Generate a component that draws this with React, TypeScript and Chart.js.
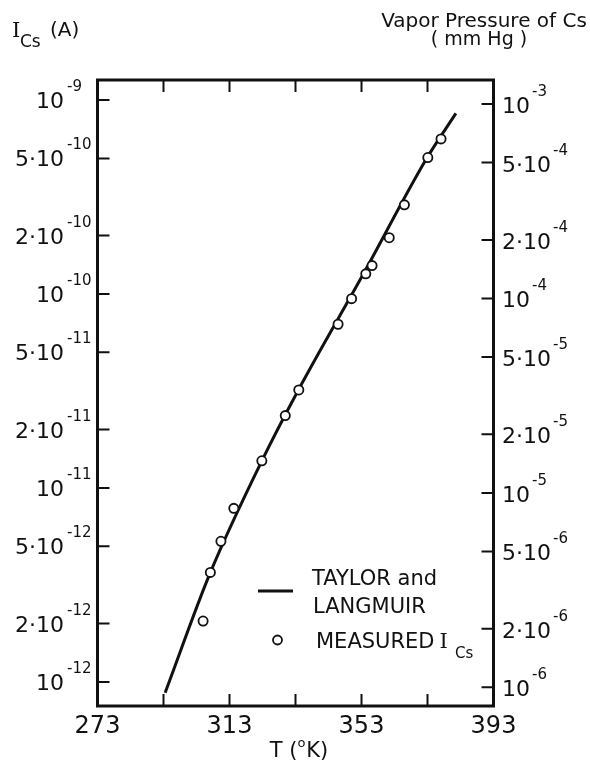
import React, { useEffect, useRef } from "react";
import { Chart, registerables } from "chart.js";

Chart.register(...registerables);

// ---- data ----
const X_MIN = 273;
const X_MAX = 393;
const X_TICKS = [293, 313, 333, 353, 373];
const X_LABELS = [273, 313, 353, 393];

const Y_MIN = Math.pow(10, -12.124);
const Y_MAX = Math.pow(10, -8.897);
const Y2_MIN = Math.pow(10, -6.096);
const Y2_MAX = Math.pow(10, -2.8765);

const LEFT_TICKS = [1e-9, 5e-10, 2e-10, 1e-10, 5e-11, 2e-11, 1e-11, 5e-12, 2e-12, 1e-12];
const LEFT_LABELS = ["10^-9", "5·10^-10", "2·10^-10", "10^-10", "5·10^-11", "2·10^-11", "10^-11", "5·10^-12", "2·10^-12", "10^-12"];
const RIGHT_TICKS = [1e-3, 5e-4, 2e-4, 1e-4, 5e-5, 2e-5, 1e-5, 5e-6, 2e-6, 1e-6];
const RIGHT_LABELS = ["10^-3", "5·10^-4", "2·10^-4", "10^-4", "5·10^-5", "2·10^-5", "10^-5", "5·10^-6", "2·10^-6", "10^-6"];

// Taylor and Langmuir curve
const LINE_T = [293.5, 307.2, 322.8, 334.0, 353.8, 372.9, 381.6];
const LINE_I = [8.8e-13, 3.67e-12, 1.38e-11, 3.23e-11, 1.29e-10, 5.05e-10, 8.53e-10];

// Measured I_Cs
const PT_T = [305.0, 307.2, 310.4, 314.3, 322.8, 329.9, 334.0, 345.9, 350.0, 354.3, 356.2, 361.4, 366.0, 373.1, 377.1];
const PT_I = [2.06e-12, 3.67e-12, 5.31e-12, 7.85e-12, 1.38e-11, 2.36e-11, 3.2e-11, 6.98e-11, 9.46e-11, 1.27e-10, 1.4e-10, 1.95e-10, 2.88e-10, 5.05e-10, 6.3e-10];

const SANS = '"DejaVu Sans", sans-serif';
const SERIF = '"DejaVu Serif", serif';
const INK = "#111";

function drawSup(ctx: CanvasRenderingContext2D, label: string, x: number, y: number, side: "left" | "right") {
  const [base, exp] = label.split("^");
  const baseFont = `22px ${SANS}`;
  const supFont = `15px ${SANS}`;
  ctx.textBaseline = "alphabetic";
  ctx.font = baseFont;
  const bw = ctx.measureText(base).width;
  if (side === "left") {
    ctx.textAlign = "right";
    ctx.fillText(base, 64, y + 8);
    ctx.font = supFont;
    ctx.textAlign = "left";
    ctx.fillText(exp, 67, y - 9);
  } else {
    ctx.textAlign = "left";
    ctx.fillText(base, x, y + 9);
    ctx.font = supFont;
    ctx.fillText(exp, x + bw + 2, y - 8);
  }
}

const decorPlugin = {
  id: "decor",
  afterDraw(chart: any) {
    const ctx: CanvasRenderingContext2D = chart.ctx;
    const { left, right, top, bottom } = chart.chartArea;
    const xs = chart.scales.x;
    const ys = chart.scales.y;
    const y2 = chart.scales.y2;
    ctx.save();
    ctx.strokeStyle = INK;
    ctx.fillStyle = INK;

    // frame
    ctx.lineWidth = 3;
    ctx.strokeRect(left, top, right - left, bottom - top);

    // ticks
    ctx.lineWidth = 2;
    ctx.beginPath();
    X_TICKS.forEach((t) => {
      const px = xs.getPixelForValue(t);
      ctx.moveTo(px, top);
      ctx.lineTo(px, top + 12);
      ctx.moveTo(px, bottom);
      ctx.lineTo(px, bottom - 12);
    });
    LEFT_TICKS.forEach((v) => {
      const py = ys.getPixelForValue(v);
      ctx.moveTo(left, py);
      ctx.lineTo(left + 12, py);
    });
    RIGHT_TICKS.forEach((v) => {
      const py = y2.getPixelForValue(v);
      ctx.moveTo(right, py);
      ctx.lineTo(right - 12, py);
    });
    ctx.stroke();

    // x labels
    ctx.font = `24px ${SANS}`;
    ctx.textAlign = "center";
    ctx.textBaseline = "alphabetic";
    X_LABELS.forEach((t) => {
      ctx.fillText(String(t), xs.getPixelForValue(t), 733);
    });

    // y labels
    LEFT_TICKS.forEach((v, i) => drawSup(ctx, LEFT_LABELS[i], left, ys.getPixelForValue(v), "left"));
    RIGHT_TICKS.forEach((v, i) => drawSup(ctx, RIGHT_LABELS[i], 502, y2.getPixelForValue(v), "right"));

    // x axis title: T (°K)
    {
      const parts1 = "T (";
      const sup = "o";
      const parts2 = "K)";
      ctx.font = `21px ${SANS}`;
      const w1 = ctx.measureText(parts1).width;
      const w2 = ctx.measureText(parts2).width;
      ctx.font = `13px ${SANS}`;
      const ws = ctx.measureText(sup).width;
      const total = w1 + ws + 1 + w2;
      const x0 = 299 - total / 2;
      ctx.textAlign = "left";
      ctx.font = `21px ${SANS}`;
      ctx.fillText(parts1, x0, 757);
      ctx.font = `13px ${SANS}`;
      ctx.fillText(sup, x0 + w1, 747);
      ctx.font = `21px ${SANS}`;
      ctx.fillText(parts2, x0 + w1 + ws + 1, 757);
    }

    // left axis title: I_Cs (A)
    ctx.textAlign = "left";
    ctx.font = `21px ${SERIF}`;
    ctx.fillText("I", 12, 37);
    ctx.font = `17px ${SANS}`;
    ctx.fillText("Cs", 20, 47);
    ctx.font = `20px ${SANS}`;
    ctx.fillText("(A)", 50, 36);

    // right axis title
    ctx.textAlign = "center";
    ctx.font = `20px ${SANS}`;
    ctx.fillText("Vapor Pressure of Cs", 484, 27);
    ctx.font = `19px ${SANS}`;
    ctx.fillText("( mm Hg )", 479, 45);

    // legend
    ctx.lineWidth = 3;
    ctx.beginPath();
    ctx.moveTo(258, 591);
    ctx.lineTo(293, 591);
    ctx.stroke();
    ctx.textAlign = "left";
    ctx.textBaseline = "alphabetic";
    ctx.font = `21px ${SANS}`;
    ctx.fillText("TAYLOR and", 312, 585);
    ctx.fillText("LANGMUIR", 313, 613);
    ctx.lineWidth = 1.8;
    ctx.beginPath();
    ctx.arc(277.5, 640, 4.5, 0, Math.PI * 2);
    ctx.stroke();
    ctx.fillText("MEASURED", 316, 648);
    const mw = ctx.measureText("MEASURED").width;
    ctx.font = `21px ${SERIF}`;
    ctx.fillText("I", 316 + mw + 5, 648);
    ctx.font = `15px ${SANS}`;
    ctx.fillText("Cs", 455, 658);

    ctx.restore();
  },
};

export default function App() {
  const canvasRef = useRef<HTMLCanvasElement | null>(null);

  useEffect(() => {
    document.body.style.margin = "0";
    const canvas = canvasRef.current;
    if (!canvas) return;
    const chart = new Chart(canvas, {
      type: "scatter",
      data: {
        datasets: [
          {
            label: "MEASURED I_Cs",
            data: PT_T.map((t, i) => ({ x: t, y: PT_I[i] })),
            yAxisID: "y",
            pointRadius: 4.6,
            pointBorderWidth: 1.8,
            pointBackgroundColor: "#fff",
            pointBorderColor: INK,
            showLine: false,
            order: 1,
          },
          {
            label: "TAYLOR and LANGMUIR",
            data: LINE_T.map((t, i) => ({ x: t, y: LINE_I[i] })),
            yAxisID: "y",
            showLine: true,
            pointRadius: 0,
            borderColor: INK,
            borderWidth: 3,
            cubicInterpolationMode: "monotone",
            order: 2,
          } as any,
        ],
      },
      options: {
        responsive: false,
        animation: false,
        devicePixelRatio: 1,
        layout: { padding: { top: 80, left: 0, right: 0, bottom: 0 } },
        plugins: {
          legend: { display: false },
          tooltip: { enabled: false },
          title: { display: false },
        },
        scales: {
          x: {
            type: "linear",
            min: X_MIN,
            max: X_MAX,
            ticks: { display: false },
            grid: { display: false, drawTicks: false },
            border: { display: false },
            afterFit: (s: any) => {
              s.height = 55;
            },
          },
          y: {
            type: "logarithmic",
            position: "left",
            min: Y_MIN,
            max: Y_MAX,
            ticks: { display: false },
            grid: { display: false, drawTicks: false },
            border: { display: false },
            afterFit: (s: any) => {
              s.width = 97.5;
            },
          },
          y2: {
            type: "logarithmic",
            position: "right",
            min: Y2_MIN,
            max: Y2_MAX,
            ticks: { display: false },
            grid: { display: false, drawTicks: false },
            border: { display: false },
            afterFit: (s: any) => {
              s.width = 96.5;
            },
          },
        },
      } as any,
      plugins: [decorPlugin],
    });
    return () => chart.destroy();
  }, []);

  return (
    <div style={{ position: "absolute", left: 0, top: 0, width: 590, height: 761, background: "#fff" }}>
      <canvas ref={canvasRef} width={590} height={761} style={{ display: "block" }} />
    </div>
  );
}
